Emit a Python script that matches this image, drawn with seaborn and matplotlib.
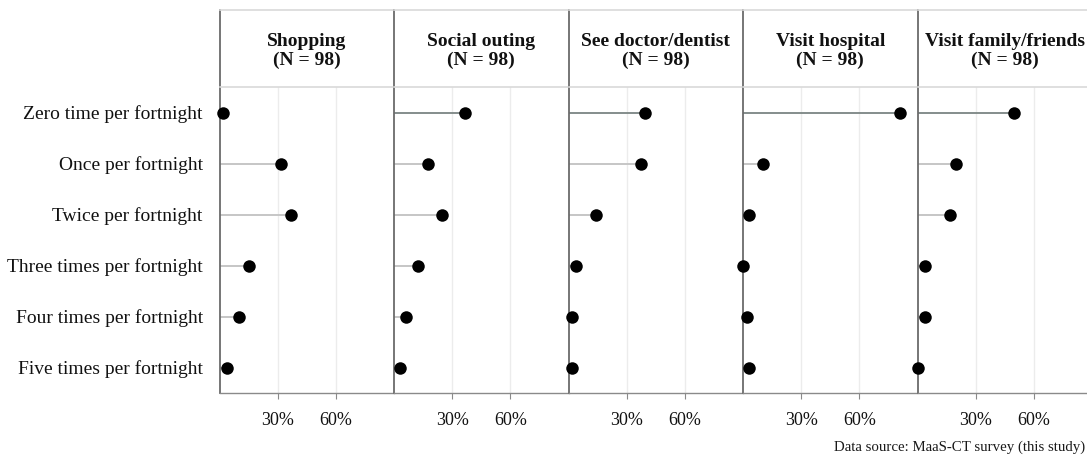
import numpy as np
import pandas as pd
import matplotlib
matplotlib.use("Agg")
import matplotlib.pyplot as plt
from matplotlib.ticker import PercentFormatter
import seaborn as sns

# Trip frequency categories (top to bottom)
frequencies = [
    "Zero time per fortnight",
    "Once per fortnight",
    "Twice per fortnight",
    "Three times per fortnight",
    "Four times per fortnight",
    "Five times per fortnight",
]

# Trip purposes shown as facets
purposes = ["Shopping", "Social outing", "See doctor/dentist",
            "Visit hospital", "Visit family/friends"]
sample_sizes = [98, 98, 98, 98, 98]

# Share of respondents per frequency, one list per purpose
shopping = [0.020, 0.316, 0.367, 0.153, 0.102, 0.041]
social_outing = [0.367, 0.173, 0.245, 0.122, 0.061, 0.031]
see_doctor = [0.395, 0.374, 0.140, 0.038, 0.018, 0.018]
visit_hospital = [0.809, 0.101, 0.029, 0.000, 0.021, 0.031]
visit_family = [0.496, 0.201, 0.170, 0.040, 0.040, 0.000]

series = [shopping, social_outing, see_doctor, visit_hospital, visit_family]

x_ticks = [0.3, 0.6]
caption = "Data source: MaaS-CT survey (this study)"

df = pd.concat(
    [pd.DataFrame({"purpose": p, "freq": frequencies, "share": v})
     for p, v in zip(purposes, series)],
    ignore_index=True,
)

sns.set_theme(style="white")
plt.rcParams["font.family"] = ["Liberation Serif", "DejaVu Serif"]

W, H = 1087, 457
fig = plt.figure(figsize=(W / 100, H / 100), dpi=100)

panel_left0 = 219.5
panel_w = 174.5
plot_top, plot_bot = 87, 393
strip_top = 10

edge_col = "#6b6b6b"
axis_col = "#8a8a8a"
frame_col = "#d9d9d9"
grid_col = "#ececec"
stem_first = "#7b8583"
stem_rest = "#c2c2c2"

for i, (purpose, n) in enumerate(zip(purposes, sample_sizes)):
    left = (panel_left0 + i * panel_w) / W
    ax = fig.add_axes([left, (H - plot_bot) / H, panel_w / W,
                       (plot_bot - plot_top) / H])
    d = df[df["purpose"] == purpose]

    for xt in x_ticks:
        ax.axvline(xt, color=grid_col, lw=1.0, zorder=0)

    ypos = np.arange(len(frequencies))
    colors = [stem_first] + [stem_rest] * (len(frequencies) - 1)
    ax.hlines(ypos, 0, d["share"].to_numpy(), colors=colors, lw=1.3, zorder=1)

    sns.stripplot(data=d, x="share", y="freq", order=frequencies,
                  jitter=False, color="black", size=9, linewidth=0,
                  ax=ax, zorder=3, clip_on=False)

    ax.set_xlim(0, 0.9)
    ax.set_ylim(len(frequencies) - 0.5, -0.5)
    ax.set_xticks(x_ticks)
    ax.xaxis.set_major_formatter(PercentFormatter(xmax=1, decimals=0))
    ax.set_xlabel("")
    ax.set_ylabel("")
    ax.tick_params(axis="x", length=4.5, width=0.8, color=axis_col,
                   pad=9, labelsize=13, labelcolor="#111111", bottom=True)
    if i == 0:
        ax.tick_params(axis="y", length=0, pad=12, labelsize=14,
                       labelcolor="#111111")
    else:
        ax.tick_params(axis="y", length=0, labelleft=False)

    for side in ["top", "right"]:
        ax.spines[side].set_visible(False)
    ax.spines["left"].set_color(edge_col)
    ax.spines["left"].set_linewidth(1.3)
    ax.spines["bottom"].set_color(axis_col)
    ax.spines["bottom"].set_linewidth(1.0)

    # facet strip
    sax = fig.add_axes([left, (H - plot_top) / H, panel_w / W,
                        (plot_top - strip_top) / H])
    sax.set_xticks([])
    sax.set_yticks([])
    sax.set_facecolor("white")
    sax.spines["right"].set_visible(False)
    sax.spines["left"].set_color(edge_col)
    sax.spines["left"].set_linewidth(1.3)
    sax.spines["top"].set_color(frame_col)
    sax.spines["top"].set_linewidth(1.2)
    sax.spines["bottom"].set_color(frame_col)
    sax.spines["bottom"].set_linewidth(1.2)
    sax.text(0.5, 0.47, f"{purpose}\n(N = {n})", ha="center", va="center",
             fontsize=14, fontweight="bold", color="#111111",
             linespacing=1.15, transform=sax.transAxes)

fig.text(1085 / W, 1 - 447 / H, caption, ha="right", va="center",
         fontsize=10.7, color="#1a1a1a")

fig.savefig("out.png", dpi=100)
